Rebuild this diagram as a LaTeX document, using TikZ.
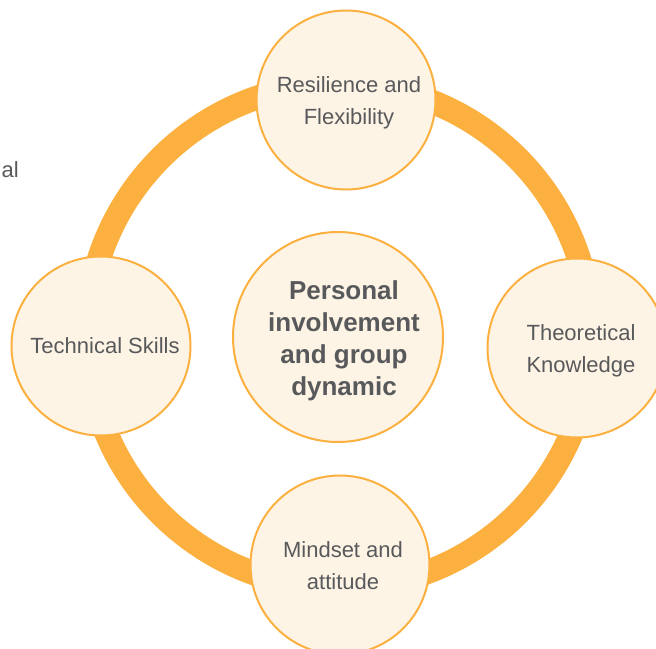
\documentclass[tikz,border=0pt]{standalone}
\usepackage{fontspec}
\setmainfont{Liberation Sans}
\definecolor{ringorange}{RGB}{251,176,64}
\definecolor{cream}{RGB}{254,244,230}
\definecolor{textgray}{RGB}{88,89,91}
\begin{document}
\begin{tikzpicture}[x=1pt,y=-1pt,
  ring/.style={draw=ringorange,line width=24pt},
  bubble/.style={circle,draw=ringorange,line width=2pt,fill=cream,
    minimum size=179pt,inner sep=0pt},
  hub/.style={bubble,minimum size=210pt},
  caption/.style={text=textgray,inner sep=0pt,align=center,
    font=\fontsize{22}{32}\selectfont},
  hubcaption/.style={caption,font=\fontsize{26}{32}\selectfont\bfseries}]
  \useasboundingbox (0,0) rectangle (656,648);
  % cut-off word at the left margin
  \node[caption,anchor=east] (stub) at (19,170) {al};
  % the ring linking the four satellite bubbles
  \draw[ring] (339,336) circle[radius=252];
  % bubbles
  \node[bubble] (top) at (346,100) {};
  \node[bubble] (left) at (101,346) {};
  \node[bubble] (right) at (577,348) {};
  \node[bubble] (bottom) at (340,565) {};
  \node[hub] (hub) at (338,337) {};
  % captions
  \node[caption] (topcap) at ([shift={(3,3)}]top.center) {Resilience and\\Flexibility};
  \node[caption] (leftcap) at ([shift={(4,0)}]left.center) {Technical Skills};
  \node[caption] (rightcap) at ([shift={(4,3)}]right.center) {Theoretical\\Knowledge};
  \node[caption] (bottomcap) at ([shift={(3,1)}]bottom.center) {Mindset and\\attitude};
  \node[hubcaption] (hubcap) at ([shift={(6,4)}]hub.center) {Personal\\involvement\\and group\\dynamic};
\end{tikzpicture}
\end{document}
